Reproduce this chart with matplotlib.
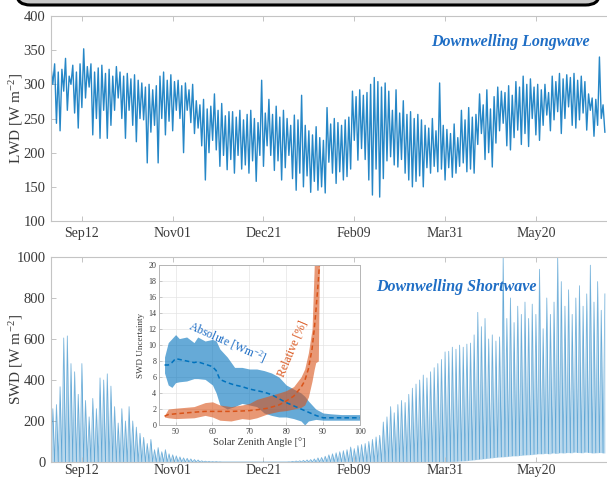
import numpy as np
import matplotlib
matplotlib.use('Agg')
import matplotlib.pyplot as plt
from matplotlib.patches import FancyBboxPatch

plt.rcParams['font.family'] = ['Liberation Serif', 'DejaVu Serif']
plt.rcParams['mathtext.fontset'] = 'stix'

# ---------------- data ----------------
tick_days = [17, 67, 117, 167, 217, 267]
tick_labels = ['Sep12', 'Nov01', 'Dec21', 'Feb09', 'Mar31', 'May20']
bin_days = list(range(0, 306, 2))   # 2-day bins starting at the left edge (Aug 26)

lwd_hi = [325, 330, 318, 322, 338, 312, 328, 318, 330, 352,
          326, 330, 318, 324, 328, 316, 322, 312, 326, 318,
          312, 316, 308, 314, 306, 302, 296, 300, 292, 298,
          312, 318, 306, 314, 304, 306, 298, 302, 292, 300,
          276, 270, 278, 264, 268, 286, 262, 272, 254, 260,
          260, 252, 262, 248, 256, 262, 250, 244, 306, 258,
          278, 256, 268, 252, 262, 250, 240, 255, 248, 284,
          240, 232, 226, 238, 222, 218, 266, 242, 250, 244,
          240, 248, 252, 290, 282, 292, 284, 288, 300, 310,
          304, 296, 302, 290, 262, 292, 258, 276, 256, 260,
          250, 256, 248, 240, 236, 250, 232, 302, 240, 234,
          228, 242, 222, 262, 248, 266, 252, 256, 286, 270,
          292, 264, 282, 296, 290, 288, 298, 284, 304, 296,
          312, 300, 308, 296, 300, 292, 300, 288, 312, 304,
          316, 308, 314, 310, 316, 306, 312, 304, 286, 280,
          278, 340, 270]
lwd_lo = [300, 243, 232, 290, 262, 300, 258, 236, 266, 280,
          296, 226, 250, 221, 262, 221, 240, 262, 280, 250,
          221, 262, 240, 216, 250, 248, 185, 230, 240, 185,
          250, 226, 246, 232, 262, 250, 200, 262, 244, 228,
          236, 210, 160, 200, 218, 204, 180, 196, 175, 190,
          170, 196, 176, 182, 170, 188, 158, 196, 180, 210,
          196, 174, 188, 160, 178, 196, 162, 145, 170, 150,
          166, 142, 158, 145, 150, 141, 186, 170, 155, 172,
          160, 165, 176, 218, 189, 206, 190, 160, 138, 176,
          135, 162, 188, 194, 182, 179, 190, 170, 160, 150,
          158, 166, 150, 178, 170, 180, 172, 176, 160, 178,
          164, 170, 180, 185, 172, 176, 170, 212, 228, 190,
          200, 179, 214, 232, 243, 210, 204, 222, 233, 212,
          228, 209, 250, 226, 218, 240, 255, 232, 248, 260,
          228, 250, 267, 240, 236, 248, 258, 233, 262, 224,
          240, 250, 230]

swd_max = [260, 280, 367, 605, 615, 480, 440, 330, 480, 300,
           220, 310, 260, 410, 400, 430, 370, 270, 190, 260,
           200, 270, 200, 170, 140, 120, 90, 110, 60, 70,
           50, 60, 40, 35, 30, 25, 20, 18, 15, 12,
           10, 6, 4, 3, 2, 2, 1, 0, 0, 0,
           0, 0, 0, 0, 0, 0, 0, 0, 0, 0,
           0, 0, 0, 0, 0, 1, 3, 5, 6, 8,
           10, 12, 15, 20, 22, 28, 35, 40, 45, 50,
           55, 60, 73, 65, 80, 85, 90, 100, 110, 122,
           130, 195, 220, 270, 240, 280, 300, 290, 330, 360,
           380, 400, 424, 410, 440, 460, 480, 500, 537, 540,
           560, 550, 570, 560, 575, 580, 620, 730, 660, 700,
           600, 620, 590, 610, 1000, 700, 800, 680, 760, 720,
           780, 700, 770, 720, 940, 650, 800, 720, 780, 1000,
           880, 760, 840, 720, 800, 860, 760, 820, 960, 780,
           880, 740, 820]
swd_min = [0, 0, 0, 0, 0, 0, 0, 0, 0, 0,
           0, 0, 0, 0, 0, 0, 0, 0, 0, 0,
           0, 0, 0, 0, 0, 0, 0, 0, 0, 0,
           0, 0, 0, 0, 0, 0, 0, 0, 0, 0,
           0, 0, 0, 0, 0, 0, 0, 0, 0, 0,
           0, 0, 0, 0, 0, 0, 0, 0, 0, 0,
           0, 0, 0, 0, 0, 0, 0, 0, 0, 0,
           0, 0, 0, 0, 0, 0, 0, 0, 0, 0,
           0, 0, 0, 0, 0, 0, 0, 0, 0, 0,
           0, 0, 0, 0, 0, 0, 0, 0, 0, 0,
           0, 0, 0, 0, 0, 0, 0, 0, 0, 0,
           2, 3, 4, 5, 6, 8, 10, 12, 14, 16,
           18, 20, 22, 24, 25, 26, 28, 30, 30, 32,
           34, 35, 36, 38, 40, 40, 42, 40, 44, 42,
           45, 44, 46, 45, 48, 46, 45, 48, 46, 44,
           45, 46, 44]

# inset: SWD uncertainty vs solar zenith angle
abs_sza = [47, 48, 49, 50, 51, 53, 55, 56, 58, 60, 61, 62, 64, 66, 68, 70,
           72, 74, 76, 78, 80, 82, 84, 85, 86, 88, 90, 92, 95, 100]
abs_mean = [7.5, 7.5, 7.8, 8.3, 8.2, 8.0, 7.8, 7.9, 7.6, 7.3, 6.8, 5.7, 5.3, 5.0,
            4.8, 4.5, 4.3, 4.1, 3.8, 3.3, 2.8, 2.4, 2.0, 1.8, 1.6, 1.2, 0.9, 0.9, 0.9, 0.9]
abs_up = [8.5, 10.3, 10.8, 11.3, 10.8, 11.0, 10.3, 11.0, 10.5, 10.7, 10.5, 9.5, 8.5, 7.2,
          7.2, 7.0, 7.0, 6.8, 6.5, 6.0, 5.0, 4.5, 4.0, 3.6, 3.0, 2.0, 1.5, 1.4, 1.3, 1.3]
abs_lo = [6.5, 5.0, 4.7, 5.3, 5.4, 5.5, 5.8, 5.8, 5.7, 5.0, 4.0, 2.5, 2.0, 2.3,
          2.7, 2.5, 2.3, 1.5, 1.2, 1.0, 1.0, 0.8, 0.5, 0.0, 0.5, 0.7, 0.6, 0.6, 0.6, 0.6]

rel_sza = [47, 48, 50, 55, 58, 60, 62, 65, 68, 70, 72, 75, 78, 80, 82, 84, 85,
           86, 87, 87.6, 88, 88.7, 89]
rel_mean = [1.1, 1.3, 1.4, 1.6, 1.7, 1.7, 1.7, 1.7, 1.75, 1.8, 1.9, 2.1, 2.5, 3.0, 3.6,
            4.7, 5.5, 7.0, 9.5, 12.0, 14.0, 18.0, 20.0]
rel_up = [1.2, 2.0, 2.1, 2.3, 2.8, 2.9, 2.5, 2.3, 2.5, 2.7, 3.2, 3.6, 4.0, 4.3, 4.8,
          6.0, 7.0, 9.0, 12.0, 20.0, 20.0, 20.0, 20.0]
rel_lo = [1.0, 0.9, 0.8, 0.9, 1.2, 1.0, 0.6, 0.5, 0.8, 0.7, 0.9, 1.4, 1.7, 1.8, 2.0,
          2.2, 2.5, 3.5, 5.5, 7.0, 7.8, 8.0, 20.0]

# ---------------- figure ----------------
W, H = 607, 478
fig = plt.figure(figsize=(W / 100, H / 100), dpi=100)

BLUE = '#0072BD'
ORANGE = '#D95319'
SPINE = '#c4c4c4'
TXT = '#3a3a3a'
TITLE = '#1F6EC5'

# partial rounded box at very top
box = FancyBboxPatch((17 / W, 473 / H), (599 - 17) / W, 0.06,
                     boxstyle='round,pad=0,rounding_size=0.022',
                     transform=fig.transFigure, facecolor='#c9c9c9',
                     edgecolor='black', lw=2.2, clip_on=False)
fig.patches.append(box)

left_px, right_px = 51, 609
day_per_px = 1 / 1.816
x_min = 0
x_max = (right_px - left_px) * day_per_px


def fpos(l, t, r, b):
    return [l / W, 1 - b / H, (r - l) / W, (b - t) / H]


def style_axes(ax, pad):
    for s in ax.spines.values():
        s.set_color(SPINE)
        s.set_linewidth(0.8)
    ax.tick_params(direction='in', length=3.5, width=0.7, color=SPINE,
                   labelcolor=TXT, labelsize=10.5, top=True, right=False, pad=4)
    ax.tick_params(axis='x', labelsize=10, pad=pad)
    ax.set_xticks(tick_days)
    ax.set_xticklabels(tick_labels)
    ax.set_xlim(x_min, x_max)


bd = np.array(bin_days, dtype=float)

# ---- top: LWD ----
ax1 = fig.add_axes(fpos(left_px, 16, right_px, 221))
style_axes(ax1, 4)
t1 = np.empty(2 * len(bd))
v1 = np.empty(2 * len(bd))
t1[0::2] = bd
t1[1::2] = bd + 1
v1[0::2] = lwd_hi
v1[1::2] = lwd_lo
ax1.plot(t1, v1, color=BLUE, lw=1.0, alpha=0.85)
ax1.set_ylim(100, 400)
ax1.set_yticks([100, 150, 200, 250, 300, 350, 400])
ax1.set_ylabel('LWD [W m$^{\\mathregular{-2}}$]', fontsize=11, color=TXT)
ax1.yaxis.set_label_coords(-0.046, 0.5)
ax1.text(0.824, 0.873, 'Downwelling Longwave', transform=ax1.transAxes,
         fontsize=11.5, fontweight='bold', fontstyle='italic', color=TITLE,
         ha='center', va='center')

# ---- bottom: SWD ----
ax2 = fig.add_axes(fpos(left_px, 257, right_px, 462))
style_axes(ax2, 1.5)
t2 = np.empty(2 * len(bd))
v2 = np.empty(2 * len(bd))
lo2 = np.empty(2 * len(bd))
t2[0::2] = bd
t2[1::2] = bd + 1
v2[0::2] = swd_min
v2[1::2] = swd_max
lo2[0::2] = swd_min
lo2[1::2] = swd_min
ax2.fill_between(t2, lo2, v2, color=BLUE, alpha=0.28, lw=0)
ax2.plot(t2, v2, color=BLUE, lw=0.6, alpha=0.5)
ax2.set_ylim(0, 1000)
ax2.set_yticks([0, 200, 400, 600, 800, 1000])
ax2.set_ylabel('SWD [W m$^{\\mathregular{-2}}$]', fontsize=11, color=TXT)
ax2.yaxis.set_label_coords(-0.046, 0.5)
ax2.text(0.727, 0.854, 'Downwelling Shortwave', transform=ax2.transAxes,
         fontsize=11.5, fontweight='bold', fontstyle='italic', color=TITLE,
         ha='center', va='center')

# ---- inset ----
ax3 = fig.add_axes(fpos(159, 265, 360, 425))
ax3.set_facecolor('white')
for s in ax3.spines.values():
    s.set_color('#b5b5b5')
    s.set_linewidth(0.7)
ax3.tick_params(direction='in', length=2, width=0.5, color='#b5b5b5',
                labelcolor=TXT, labelsize=5.8, pad=2)
ax3.grid(True, color='#e4e4e4', lw=0.5)
ax3.set_axisbelow(True)
ax3.fill_between(abs_sza, abs_lo, abs_up, color=BLUE, alpha=0.6, lw=0)
ax3.fill_between(rel_sza, rel_lo, rel_up, color=ORANGE, alpha=0.6, lw=0)
ax3.plot(abs_sza, abs_mean, color=BLUE, lw=1.1, ls=(0, (3, 2)))
ax3.plot(rel_sza, rel_mean, color=ORANGE, lw=1.1, ls=(0, (3, 2)))
ax3.set_xlim(45.5, 100)
ax3.set_ylim(0, 20)
ax3.set_xticks([50, 60, 70, 80, 90, 100])
ax3.set_yticks(list(range(0, 21, 2)))
ax3.set_xlabel('Solar Zenith Angle [°]', fontsize=7.5, color=TXT, labelpad=1)
ax3.set_ylabel('SWD Uncertainty', fontsize=6.5, color=TXT, labelpad=2)
ax3.text(64.0, 10.4, 'Absolute [Wm$^{\\mathregular{-2}}$]', rotation=-24,
         color='#1F6EC5', fontsize=8.5, ha='center', va='center',
         rotation_mode='anchor')
ax3.text(81.6, 9.6, 'Relative [%]', rotation=67, color=ORANGE, fontsize=8.5,
         ha='center', va='center', rotation_mode='anchor')

fig.savefig('out.png', dpi=100)
